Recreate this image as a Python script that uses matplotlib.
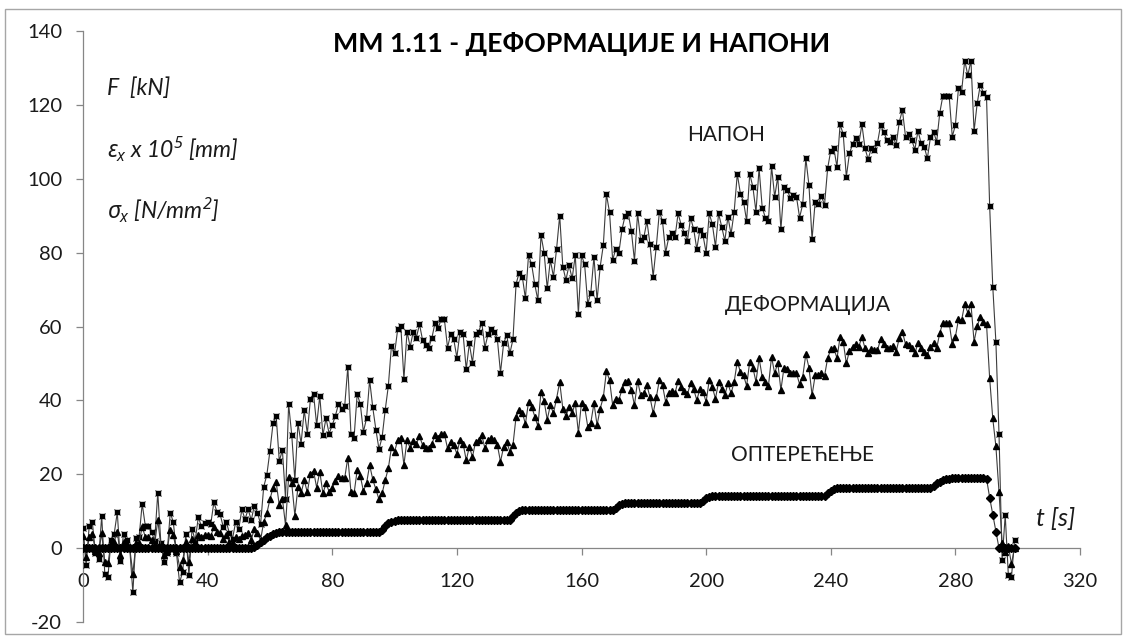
import matplotlib
matplotlib.use("Agg")
import matplotlib.pyplot as plt
from matplotlib.patches import Rectangle
import numpy as np

plt.rcParams['font.family'] = ['Lato', 'Noto Sans', 'DejaVu Sans']
plt.rcParams['mathtext.fontset'] = 'custom'
plt.rcParams['mathtext.it'] = 'Noto Sans:italic'
plt.rcParams['mathtext.rm'] = 'Noto Sans:italic'

# time axis [s], one sample per second
t = list(range(300))

# stress  sigma_x [N/mm2]
napon = [
    5.5, -4.6, 6, 7, -1.4, -3, 8.7, -7, -7.8, 2.2,
    3.8, 9.7, -3.5, 3.8, 2.3, 0, -12, 2.8, 3, 12,
    6, 6, 4.4, 2, 15, 1.3, -3.7, -1.4, 9.6, 7,
    -1.4, -9.3, -6.4, 3.8, -7.3, 5.3, 2, 8.3, 6, 6.7,
    7, 6.5, 12.4, 9.8, 9.2, 5.8, 7.1, 4, 2.6, 7.1,
    5.3, 10.5, 7.8, 10.5, 7.6, 11.5, 9.6, 6.5, 16.6, 19.8,
    26.3, 33.8, 35.8, 23.6, 26.5, 13.4, 39, 30.6, 18.4, 33.8,
    28.3, 37.4, 31, 40.5, 41.7, 33.3, 41.2, 30.6, 35.1, 31,
    33.3, 35.8, 39, 37.8, 38.5, 49.1, 31, 29.9, 41.7, 39,
    31.5, 35.1, 45.5, 38.1, 32.1, 26.8, 30, 37.4, 43.9, 54.8,
    52.7, 59.2, 60.2, 45.8, 58.6, 54.5, 58.6, 57, 60.6, 56.3,
    55, 54.3, 57, 61, 59.7, 61.9, 61.9, 54.3, 57.9, 56.5,
    51.6, 58.6, 57.9, 48.4, 55.4, 50.2, 57.9, 58.6, 61, 54.3,
    57.9, 59.3, 58.6, 56.5, 47.5, 55.4, 57.7, 52.7, 56.5, 71.5,
    74.6, 73.5, 67.6, 79.3, 76.8, 71.4, 67.1, 84.7, 80, 70.3,
    78, 73.5, 81, 90, 76.2, 72.6, 76.6, 73, 79.3, 63.4,
    79.3, 76.8, 66.1, 69.2, 78.9, 67.1, 76.2, 82, 95.8, 90.9,
    78, 81, 80, 86.3, 90, 90.6, 85.9, 77.8, 90.6, 83.4,
    84.1, 88.5, 82.2, 73.5, 81.6, 91.1, 88.5, 80, 84.1, 85.2,
    84.1, 90.6, 87.5, 85.4, 83.2, 89.4, 86.4, 81, 86.1, 84.7,
    80, 90.6, 87.7, 81.6, 90.6, 87, 83.2, 89.7, 85, 91.1,
    101.3, 96, 93.8, 88.6, 101.3, 97.8, 91.1, 102.8, 92.2, 89.5,
    88.6, 103.4, 95.1, 100.5, 86.3, 97.7, 96.9, 94.9, 95.6, 95.1,
    89.5, 93.1, 105.5, 98.3, 83.6, 93.8, 93.1, 95.3, 92.9, 102.8,
    107.6, 108.2, 103.2, 114.7, 112.1, 100.5, 106.9, 109.3, 110.9, 109.4,
    114.7, 108.2, 105.3, 108.2, 107.8, 109.7, 114.5, 112.7, 110.5, 110,
    111.4, 109.1, 115.4, 118.6, 111.4, 112, 110.5, 107.9, 113, 109.6,
    108.7, 105.5, 111.2, 112.7, 110, 117.9, 122.5, 122.5, 122.5, 111.4,
    114.5, 124.6, 123.6, 132, 128, 132, 112.9, 120.4, 125.4, 123.3,
    122, 92.7, 70.8, 55.9, 31, -3.2, 8.9, -7.3, -7.9, 2.3,
]

# strain  eps_x x 10^5
deformacija = [
    3.2, -2.3, 3, 3.8, -0.7, -1.4, 4, -3.7, -4.1, 1.3,
    1.7, 4.4, -1.9, 1.7, 1, 0, -6.9, 1.3, 1.5, 5.8,
    3, 3, 2.2, 1, 7.6, 0.6, -1.9, -0.7, 4.9, 3.5,
    -0.7, -5, -3.3, 1.7, -3.7, 2.6, 1.5, 3.5, 3.1, 3.5,
    3.6, 3.2, 5.8, 4.4, 4, 2.6, 3.5, 1.7, 1.3, 3.1,
    2.6, 3.2, 3.5, 4.2, 2.2, 5.3, 4, 2.2, 7.1, 9.4,
    13.2, 16.4, 17.8, 11.6, 13.4, 6.2, 19.3, 17.5, 8.8, 16.6,
    14.8, 18.4, 15.1, 20.2, 20.8, 16.4, 20.7, 14.8, 17.5, 15.3,
    16.4, 18.1, 19.5, 18.9, 19, 24.5, 15.3, 14.8, 21.1, 19.5,
    15.5, 17.5, 22.5, 18.6, 15.9, 13.2, 14.8, 18.4, 21.6, 27.3,
    26.1, 29.2, 29.9, 22.5, 29.4, 27, 29.1, 28.3, 30.3, 27.9,
    27, 27, 28.3, 30.6, 29.7, 30.9, 30.9, 27, 28.8, 27.9,
    25.5, 29.4, 28.3, 23.8, 27.4, 24.7, 28.8, 29.2, 30.6, 27,
    29.2, 29.7, 29.2, 27.9, 23.4, 27.4, 28.8, 26.1, 27.9, 35.6,
    37.4, 36.7, 33.6, 39.6, 38.3, 35.6, 33, 42.3, 39.8, 34.8,
    38.7, 36.5, 40.5, 45, 37.8, 35.8, 38.1, 36.5, 39.4, 31.2,
    39.4, 38.3, 32.9, 34, 39.2, 33.3, 37.8, 40.8, 47.9, 45.5,
    38.7, 40.3, 40.1, 43, 45, 45.3, 42.8, 38.7, 45.3, 41.4,
    41.9, 44.1, 40.8, 36.5, 40.8, 45.5, 44.1, 39.6, 41.9, 42.6,
    41.9, 45.3, 43.7, 42.6, 41.7, 44.6, 43, 40.1, 43, 42.3,
    39.6, 45.5, 43.5, 40.5, 45, 43.2, 41.4, 44.6, 41.9, 45,
    50.5, 47.7, 46.8, 43.9, 50.5, 48.9, 45, 51.4, 46.4, 45,
    43.9, 51.8, 47.3, 50.2, 42.8, 48.9, 48.4, 47.5, 47.5, 47.3,
    44.4, 46.4, 52.5, 48.9, 41.4, 46.8, 46.8, 47.5, 46.6, 51.4,
    53.8, 54.1, 51.4, 57.2, 55.9, 50, 53.4, 54.5, 55.2, 54.5,
    57.2, 54.1, 52.7, 53.8, 53.6, 53.6, 56.5, 55.2, 54.3, 54.1,
    54.7, 53.2, 56.9, 58.6, 55.2, 55, 54.1, 52.7, 55.6, 54.1,
    53.2, 52.3, 54.5, 55.4, 54.1, 58.3, 61, 61, 61, 55.2,
    57.2, 61.9, 61.7, 66.1, 63.7, 66.1, 55.9, 60.1, 62.6, 61.3,
    60.6, 46, 35.1, 27.6, 15.3, 1.5, -1, 0.5, -4.2, 0,
]

# load  F [kN]
opterecenje = [
    0, 0, 0, 0, 0, 0, 0, 0, 0, 0,
    0, 0, 0, 0, 0, 0, 0, 0, 0, 0,
    0, 0, 0, 0, 0, 0, 0, 0, 0, 0,
    0, 0, 0, 0, 0, 0, 0, 0, 0, 0,
    0, 0, 0, 0, 0, 0, 0, 0, 0, 0,
    0, 0, 0, 0, 0, 0.3, 0.9, 1.6, 2.3, 2.9,
    3.4, 3.8, 4.1, 4.3, 4.4, 4.5, 4.5, 4.5, 4.5, 4.5,
    4.5, 4.5, 4.5, 4.5, 4.5, 4.5, 4.5, 4.5, 4.5, 4.5,
    4.5, 4.5, 4.5, 4.5, 4.5, 4.5, 4.5, 4.5, 4.5, 4.5,
    4.5, 4.5, 4.5, 4.5, 4.5, 4.5, 5.0, 5.9, 6.7, 7.2,
    7.4, 7.5, 7.5, 7.5, 7.5, 7.5, 7.5, 7.5, 7.5, 7.5,
    7.5, 7.5, 7.5, 7.5, 7.5, 7.5, 7.5, 7.5, 7.5, 7.5,
    7.5, 7.5, 7.5, 7.5, 7.5, 7.5, 7.5, 7.5, 7.5, 7.5,
    7.5, 7.5, 7.5, 7.5, 7.5, 7.5, 7.5, 7.5, 8.6, 9.6,
    10.1, 10.3, 10.3, 10.3, 10.3, 10.3, 10.3, 10.3, 10.3, 10.3,
    10.3, 10.3, 10.3, 10.3, 10.3, 10.3, 10.3, 10.3, 10.3, 10.3,
    10.3, 10.3, 10.3, 10.3, 10.3, 10.3, 10.3, 10.3, 10.3, 10.3,
    10.3, 10.9, 11.6, 12.0, 12.2, 12.2, 12.2, 12.2, 12.2, 12.2,
    12.2, 12.2, 12.2, 12.2, 12.2, 12.2, 12.2, 12.2, 12.2, 12.2,
    12.2, 12.2, 12.2, 12.2, 12.2, 12.2, 12.2, 12.2, 12.2, 12.8,
    13.5, 13.9, 14.1, 14.1, 14.1, 14.1, 14.1, 14.1, 14.1, 14.1,
    14.1, 14.1, 14.1, 14.1, 14.1, 14.1, 14.1, 14.1, 14.1, 14.1,
    14.1, 14.1, 14.1, 14.1, 14.1, 14.1, 14.1, 14.1, 14.1, 14.1,
    14.1, 14.1, 14.1, 14.1, 14.1, 14.1, 14.1, 14.1, 14.1, 14.8,
    15.6, 16.0, 16.2, 16.2, 16.2, 16.2, 16.2, 16.2, 16.2, 16.2,
    16.2, 16.2, 16.2, 16.2, 16.2, 16.2, 16.2, 16.2, 16.2, 16.2,
    16.2, 16.2, 16.2, 16.2, 16.2, 16.2, 16.2, 16.2, 16.2, 16.2,
    16.2, 16.2, 16.2, 16.8, 17.5, 18.0, 18.4, 18.6, 18.8, 18.9,
    19.0, 19.0, 19.0, 19.0, 19.0, 19.0, 19.0, 19.0, 19.0, 19.0,
    18.8, 13.7, 9.1, 4.4, 0, 0, 0, 0, 0, 0,
]

x_ticks = [0, 40, 80, 120, 160, 200, 240, 280, 320]
y_ticks = [-20, 0, 20, 40, 60, 80, 100, 120, 140]

W, H = 1126, 639
fig = plt.figure(figsize=(W / 100, H / 100), dpi=100)
ax = fig.add_axes([83 / W, 1 - 622 / H, (1080 - 83) / W, (622 - 31) / H])

line_col = '#3c3c3c'
# stress: squares with a cross
ax.plot(t, napon, color=line_col, lw=0.8, marker='s', ms=3.4,
        mfc='black', mec='black', zorder=3)
ax.plot(t, napon, ls='none', marker='x', ms=4.8, mew=0.7, color='black', zorder=3)
# strain: triangles
ax.plot(t, deformacija, color=line_col, lw=0.8, marker='^', ms=3.9,
        mfc='black', mec='black', zorder=4)
# load: diamonds
ax.plot(t, opterecenje, color=line_col, lw=0.8, marker='D', ms=4.4,
        mfc='black', mec='black', zorder=5)

ax.set_xlim(0, 320)
ax.set_ylim(-20, 140)
ax.set_xticks(x_ticks)
ax.set_yticks(y_ticks)
ax.set_xticklabels([str(v) for v in x_ticks])
ax.set_yticklabels([str(v) for v in y_ticks])

spine_col = '#868686'
for s in ('top', 'right'):
    ax.spines[s].set_visible(False)
ax.spines['bottom'].set_position(('data', 0))
for s in ('left', 'bottom'):
    ax.spines[s].set_color(spine_col)
    ax.spines[s].set_linewidth(0.9)
ax.tick_params(axis='both', direction='out', length=5, width=0.9,
               color=spine_col, labelsize=14.5, labelcolor='#1a1a1a')
ax.tick_params(axis='x', pad=13)
ax.tick_params(axis='y', pad=10)
ax.set_facecolor('none')

ax.set_title('ММ 1.11 - ДЕФОРМАЦИЈЕ И НАПОНИ', fontsize=19.3, fontweight='bold',
             color='black', y=0.965, pad=0)

# unit labels on the left
txt = dict(style='italic', va='center', color='#1a1a1a')
ax.text(7.7, 124.6, 'F  [kN]', fontsize=16.5, **txt)
ax.text(7.7, 108.0, r'$\varepsilon_x$' + ' x 10' + r'$^5$' + ' [mm]', fontsize=16.5, **txt)
ax.text(7.7, 91.5, r'$\sigma_x$' + ' [N/mm' + r'$^2$' + ']', fontsize=16.5, **txt)

# series names
ax.text(194, 111.8, 'НАПОН', fontsize=15, va='center', color='#1a1a1a')
ax.text(206, 65.8, 'ДЕФОРМАЦИЈА', fontsize=15.3, va='center', color='#1a1a1a')
ax.text(208, 25.2, 'ОПТЕРЕЋЕЊЕ', fontsize=15, va='center', color='#1a1a1a')
ax.text(306, 8.1, 't [s]', fontsize=18, **txt)

# chart-area frame
fig.patches.append(Rectangle((5 / W, 1 - 634 / H), (1121 - 5) / W, (634 - 9) / H,
                             transform=fig.transFigure, fill=False,
                             edgecolor='#a6a6a6', lw=1.0))

fig.savefig('out.png', dpi=100)
